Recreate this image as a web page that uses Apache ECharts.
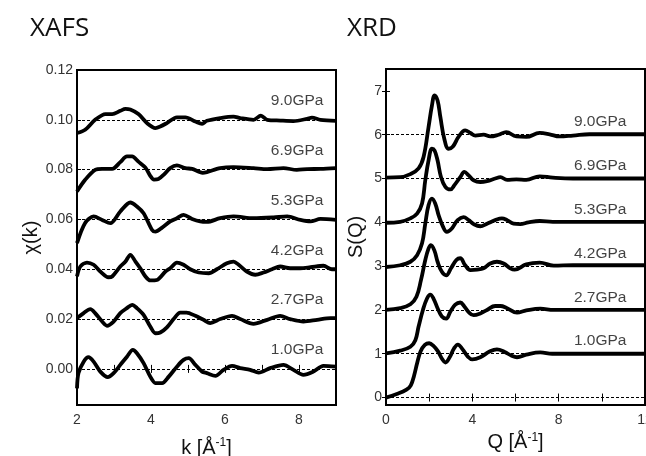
<!DOCTYPE html>
<html>
<head>
<meta charset="utf-8">
<script src="https://cdn.jsdelivr.net/npm/echarts@6/dist/echarts.min.js"></script>
<style>html,body{margin:0;padding:0;background:#fff;}#c{width:646px;height:456px;}</style>
</head>
<body>
<div id="c"></div>
<script>
// ---------------- DATA ----------------
const pressures = ['9.0GPa', '6.9GPa', '5.3GPa', '4.2GPa', '2.7GPa', '1.0GPa'];
const xafsBaselines = [0.10, 0.08, 0.06, 0.04, 0.02, 0.00];
const xrdBaselines = [6, 5, 4, 3, 2, 1, 0];
const xafsYTicks = [0, 0.02, 0.04, 0.06, 0.08, 0.10, 0.12];
const xrdYTicks = [0, 1, 2, 3, 4, 5, 6, 7];

// XAFS chi(k) curves, offsets included: [k, chi]
const xafs90 = [[2.00,0.0947],[2.22,0.0960],[2.49,0.1000],[2.77,0.1023],[2.95,0.1023],[3.17,0.1036],[3.31,0.1044],[3.44,0.1041],[3.66,0.1023],[3.89,0.0987],[4.12,0.0967],[4.25,0.0973],[4.43,0.0987],[4.70,0.1010],[4.93,0.1010],[5.20,0.0993],[5.38,0.0984],[5.51,0.0996],[5.87,0.1007],[6.23,0.1013],[6.41,0.1007],[6.77,0.1000],[6.97,0.1017],[7.14,0.1000],[7.50,0.0997],[7.85,0.0995],[8.22,0.1004],[8.35,0.1009],[8.58,0.1000],[9.00,0.0996]];
const xafs69 = [[2.00,0.0712],[2.22,0.0759],[2.49,0.0799],[2.68,0.0803],[2.95,0.0803],[3.17,0.0830],[3.35,0.0853],[3.49,0.0853],[3.66,0.0832],[3.85,0.0808],[3.98,0.0775],[4.08,0.0760],[4.20,0.0762],[4.34,0.0779],[4.52,0.0806],[4.70,0.0817],[4.93,0.0806],[5.11,0.0803],[5.29,0.0792],[5.40,0.0787],[5.51,0.0790],[5.87,0.0806],[6.23,0.0810],[6.77,0.0806],[7.14,0.0802],[7.58,0.0806],[7.94,0.0799],[8.22,0.0802],[8.58,0.0803],[9.00,0.0806]];
const xafs53 = [[2.00,0.0505],[2.22,0.0586],[2.45,0.0612],[2.68,0.0598],[2.90,0.0585],[3.17,0.0632],[3.44,0.0668],[3.62,0.0652],[3.80,0.0625],[4.03,0.0558],[4.12,0.0551],[4.30,0.0567],[4.52,0.0592],[4.70,0.0605],[4.88,0.0618],[5.11,0.0602],[5.33,0.0592],[5.51,0.0590],[5.87,0.0605],[6.23,0.0612],[6.77,0.0605],[7.31,0.0608],[7.68,0.0612],[8.04,0.0598],[8.31,0.0592],[8.58,0.0602],[9.00,0.0598]];
const xafs42 = [[2.00,0.0371],[2.09,0.0411],[2.27,0.0427],[2.45,0.0418],[2.63,0.0391],[2.85,0.0368],[2.95,0.0371],[3.17,0.0411],[3.31,0.0431],[3.44,0.0458],[3.58,0.0431],[3.71,0.0404],[3.85,0.0371],[3.98,0.0355],[4.16,0.0357],[4.39,0.0391],[4.52,0.0404],[4.70,0.0427],[4.88,0.0418],[5.06,0.0400],[5.29,0.0387],[5.56,0.0384],[5.78,0.0400],[6.05,0.0424],[6.23,0.0431],[6.37,0.0418],[6.59,0.0391],[6.82,0.0378],[7.04,0.0387],[7.27,0.0400],[7.49,0.0411],[7.76,0.0404],[8.03,0.0404],[8.31,0.0408],[8.66,0.0414],[8.89,0.0400],[9.00,0.0400]];
const xafs27 = [[2.00,0.0204],[2.18,0.0224],[2.36,0.0240],[2.49,0.0224],[2.68,0.0190],[2.81,0.0173],[2.99,0.0190],[3.17,0.0224],[3.35,0.0244],[3.49,0.0257],[3.62,0.0244],[3.80,0.0217],[3.98,0.0170],[4.12,0.0143],[4.25,0.0146],[4.43,0.0167],[4.61,0.0200],[4.79,0.0226],[4.96,0.0226],[5.20,0.0213],[5.42,0.0197],[5.60,0.0184],[5.87,0.0200],[6.19,0.0213],[6.41,0.0200],[6.77,0.0181],[7.14,0.0197],[7.49,0.0213],[7.76,0.0200],[8.12,0.0190],[8.49,0.0197],[8.85,0.0204],[9.00,0.0204]];
const xafs10 = [[2.00,-0.0078],[2.04,-0.0017],[2.18,0.0029],[2.31,0.0047],[2.45,0.0029],[2.63,-0.0011],[2.83,-0.0033],[2.99,-0.0017],[3.17,0.0016],[3.35,0.0049],[3.51,0.0076],[3.62,0.0063],[3.80,0.0023],[3.98,-0.0031],[4.12,-0.0057],[4.30,-0.0057],[4.48,-0.0031],[4.70,0.0009],[4.88,0.0036],[5.02,0.0043],[5.20,0.0016],[5.38,-0.0011],[5.51,-0.0017],[5.74,-0.0028],[5.96,-0.0004],[6.19,0.0012],[6.41,0.0003],[6.68,-0.0004],[6.91,-0.0015],[7.22,0.0003],[7.58,0.0016],[7.85,-0.0004],[8.12,-0.0024],[8.39,-0.0011],[8.66,0.0012],[9.00,0.0009]];

// XRD S(Q) curves, offsets included: [Q, S]
const xrd90 = [[0,5.02],[0.66,5.03],[1.13,5.10],[1.51,5.23],[1.74,5.49],[1.97,6.17],[2.13,6.67],[2.25,6.90],[2.39,6.78],[2.52,6.40],[2.70,5.91],[2.90,5.68],[3.10,5.73],[3.36,5.95],[3.67,6.10],[3.91,6.04],[4.14,5.98],[4.52,6.00],[4.83,5.96],[5.22,6.00],[5.57,6.06],[6.04,5.96],[6.50,5.95],[7.12,6.04],[7.58,6.01],[8.04,5.96],[8.66,5.98],[9.43,6.01],[10.21,6.01],[12,6.01]];
const xrd69 = [[0,3.99],[0.66,4.01],[1.13,4.09],[1.44,4.20],[1.67,4.43],[1.82,4.96],[1.97,5.41],[2.13,5.68],[2.25,5.64],[2.39,5.41],[2.55,5.03],[2.75,4.81],[2.98,4.75],[3.17,4.85],[3.44,5.03],[3.63,5.15],[3.83,5.07],[4.06,4.96],[4.37,4.92],[4.68,4.94],[5.06,5.00],[5.30,5.03],[5.61,4.97],[6.04,4.98],[6.50,4.97],[7.12,5.05],[7.73,5.02],[8.66,5.00],[10.21,5.00],[12,5.00]];
const xrd53 = [[0,2.98],[0.66,3.02],[1.13,3.10],[1.44,3.25],[1.67,3.52],[1.82,3.97],[1.97,4.39],[2.13,4.54],[2.28,4.43],[2.44,4.16],[2.64,3.90],[2.82,3.78],[3.05,3.86],[3.32,4.05],[3.59,4.12],[3.83,4.05],[4.06,3.96],[4.37,3.91],[4.68,3.97],[5.06,4.05],[5.37,4.09],[5.61,4.05],[5.91,3.97],[6.22,3.96],[6.60,4.00],[7.12,4.03],[7.73,4.01],[8.66,4.01],[12,4.01]];
const xrd42 = [[0,2.00],[0.66,2.04],[1.13,2.13],[1.41,2.30],[1.62,2.68],[1.82,3.14],[1.97,3.40],[2.08,3.48],[2.24,3.36],[2.39,3.10],[2.59,2.87],[2.79,2.79],[3.01,2.95],[3.26,3.14],[3.44,3.18],[3.67,3.02],[3.91,2.91],[4.22,2.92],[4.52,2.95],[4.83,3.06],[5.14,3.10],[5.45,3.06],[5.76,2.95],[5.96,2.92],[6.50,3.04],[7.12,3.08],[7.77,3.01],[8.66,3.02],[12,3.02]];
const xrd27 = [[0,1.01],[0.66,1.07],[1.13,1.16],[1.36,1.31],[1.51,1.62],[1.71,2.00],[1.90,2.26],[2.05,2.35],[2.20,2.26],[2.39,2.04],[2.59,1.85],[2.79,1.80],[2.98,1.96],[3.21,2.12],[3.44,2.17],[3.63,2.08],[3.83,1.95],[4.06,1.88],[4.37,1.92],[4.68,2.00],[5.06,2.09],[5.30,2.09],[5.61,2.04],[6.07,1.94],[6.50,1.99],[7.15,2.03],[7.77,2.00],[8.66,2.00],[12,2.00]];
const xrd10 = [[0,0.00],[0.50,0.08],[0.95,0.18],[1.15,0.28],[1.30,0.50],[1.45,0.80],[1.60,1.05],[1.80,1.20],[2.00,1.24],[2.20,1.18],[2.40,1.06],[2.60,0.88],[2.75,0.80],[2.95,0.92],[3.15,1.12],[3.33,1.21],[3.55,1.10],[3.80,0.93],[4.00,0.87],[4.37,0.92],[4.80,1.05],[5.14,1.10],[5.50,1.04],[5.80,0.96],[6.07,0.92],[6.50,0.98],[7.15,1.03],[7.70,1.00],[8.66,1.00],[12,1.00]];

const xafsCurves = [xafs90, xafs69, xafs53, xafs42, xafs27, xafs10];
const xrdCurves = [xrd90, xrd69, xrd53, xrd42, xrd27, xrd10];
const xrdLabelBase = [6, 5, 4, 3, 2, 1];

// ---------------- CHART ----------------
const NARROW = "'Liberation Sans Narrow', 'Liberation Sans', Arial, sans-serif";
const SANS = "'Liberation Sans', Arial, sans-serif";
const chart = echarts.init(document.getElementById('c'), null, {renderer: 'canvas'});

function xAx(grid, min, max, interval, labelEvery, top, name, nameGap) {
  return {
    type: 'value', gridIndex: grid, min: min, max: max, interval: interval,
    position: top ? 'top' : 'bottom',
    axisLine: {show: false},
    axisTick: {show: true, inside: true, length: 4, lineStyle: {color: '#000', width: 1}},
    axisLabel: {show: !top, margin: 8, color: '#333', fontFamily: NARROW, fontSize: 14,
      formatter: v => (Math.round(v) % labelEvery === 0 ? String(v) : '')},
    splitLine: {show: false},
    name: top ? '' : name, nameLocation: 'middle', nameGap: nameGap,
    nameTextStyle: {fontFamily: NARROW, fontSize: 20, color: '#111', lineHeight: 22,
      rich: {sup: {fontFamily: NARROW, fontSize: 12, verticalAlign: 'top', color: '#111', lineHeight: 22}}}
  };
}
function yAx(grid, min, max, ticks, right, fmt, name, nameGap) {
  return {
    type: 'value', gridIndex: grid, min: min, max: max,
    position: right ? 'right' : 'left',
    axisLine: {show: false},
    axisTick: {show: true, inside: true, length: 4, customValues: ticks, lineStyle: {color: '#000', width: 1}},
    axisLabel: {show: !right, customValues: ticks, margin: 4, color: '#333', fontFamily: NARROW, fontSize: 14, formatter: fmt},
    splitLine: {show: false},
    name: right ? '' : name, nameLocation: 'middle', nameGap: nameGap,
    nameTextStyle: {fontFamily: NARROW, fontSize: 20, color: '#111'}
  };
}

const series = [];
xafsCurves.forEach((d, i) => {
  series.push({
    type: 'line', xAxisIndex: 0, yAxisIndex: 0, data: d, showSymbol: false, smooth: 0.3,
    lineStyle: {color: '#000', width: 3.8}, z: 3, silent: true,
    markLine: i === 0 ? {silent: true, symbol: 'none', z: 1, label: {show: false},
      lineStyle: {color: '#000', width: 1, type: [3, 2]},
      data: xafsBaselines.map(b => ({yAxis: b}))} : undefined
  });
});
xrdCurves.forEach((d, i) => {
  series.push({
    type: 'line', xAxisIndex: 2, yAxisIndex: 2, data: d, showSymbol: false, smooth: 0.4,
    lineStyle: {color: '#000', width: 3.8}, z: 3, silent: true,
    markLine: i === 0 ? {silent: true, symbol: 'none', z: 1, label: {show: false},
      lineStyle: {color: '#000', width: 1, type: [3, 2]},
      data: xrdBaselines.map(b => ({yAxis: b}))} : undefined
  });
});
const labelStyle = {show: true, position: 'inside', align: 'right', verticalAlign: 'middle',
  fontFamily: SANS, fontSize: 15.5, color: '#111', formatter: p => p.data[2]};
series.push({
  type: 'scatter', xAxisIndex: 0, yAxisIndex: 0, symbolSize: 0.1, itemStyle: {color: 'rgba(0,0,0,0)'},
  silent: true, z: 4, label: labelStyle,
  data: pressures.map((p, i) => [8.66, xafsBaselines[i] + 0.0076, p])
});
series.push({
  type: 'scatter', xAxisIndex: 2, yAxisIndex: 2, symbolSize: 0.1, itemStyle: {color: 'rgba(0,0,0,0)'},
  silent: true, z: 4, label: labelStyle,
  data: pressures.map((p, i) => [11.14, xrdLabelBase[i] + 0.29, p])
});

chart.setOption({
  animation: false,
  backgroundColor: '#fff',
  grid: [
    {left: 77, top: 70, width: 259, height: 335, show: true, borderColor: '#000', borderWidth: 2, backgroundColor: 'transparent', outerBoundsMode: 'none', containLabel: false},
    {left: 386, top: 69, width: 259, height: 336, show: true, borderColor: '#000', borderWidth: 2, backgroundColor: 'transparent', outerBoundsMode: 'none', containLabel: false}
  ],
  xAxis: [
    xAx(0, 2, 9, 1, 2, false, 'k [Å{sup|-1}]', 32),
    xAx(0, 2, 9, 1, 2, true, '', 0),
    xAx(1, 0, 12, 2, 4, false, 'Q [Å{sup|-1}]', 18),
    xAx(1, 0, 12, 2, 4, true, '', 0)
  ],
  yAxis: [
    yAx(0, -0.0145, 0.12, xafsYTicks, false, v => v.toFixed(2), 'χ(k)', 30),
    yAx(0, -0.0145, 0.12, xafsYTicks, true, v => v, '', 0),
    yAx(1, -0.17, 7.5, xrdYTicks, false, v => String(v), 'S(Q)', 20),
    yAx(1, -0.17, 7.5, xrdYTicks, true, v => v, '', 0)
  ],
  graphic: [
    {type: 'text', x: 30, y: 29, style: {text: 'XAFS', font: "26px 'Open Sans', 'Noto Sans', sans-serif", fill: '#111', textVerticalAlign: 'middle'}},
    {type: 'text', x: 347, y: 29, style: {text: 'XRD', font: "26px 'Open Sans', 'Noto Sans', sans-serif", fill: '#111', textVerticalAlign: 'middle'}}
  ],
  series: series
});
</script>
</body>
</html>
